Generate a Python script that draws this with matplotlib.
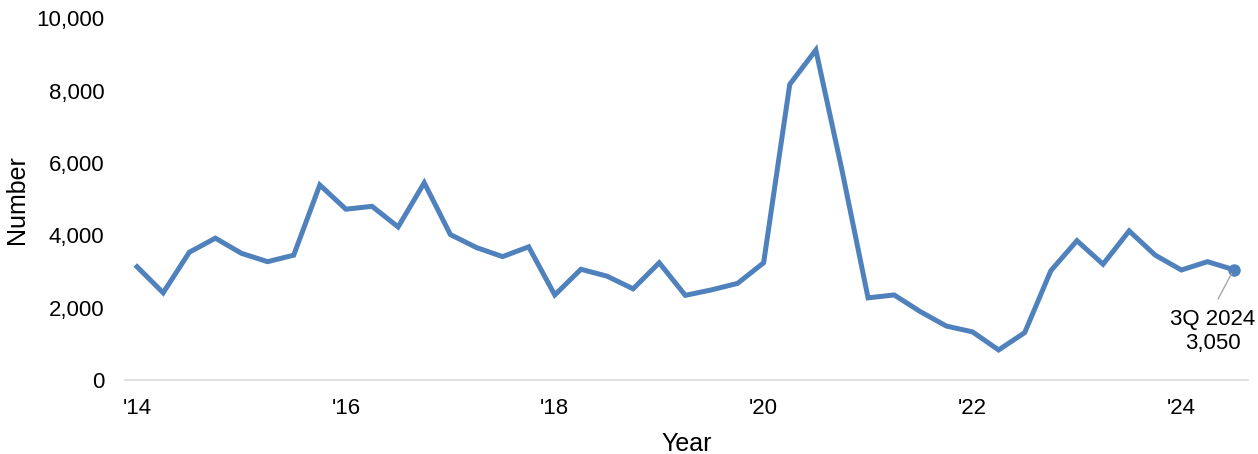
import numpy as np
import matplotlib.pyplot as plt
from matplotlib.ticker import FuncFormatter

plt.rcParams['font.family'] = ['Liberation Sans', 'DejaVu Sans']

# Quarterly counts, 1Q 2014 through 3Q 2024
quarters = [f"{q}Q {y}" for y in range(2014, 2025) for q in range(1, 5)][:43]
counts = [3130, 2410, 3530, 3920, 3500, 3270, 3450, 5390,
          4720, 4800, 4230, 5450, 4020, 3660, 3410, 3680,
          2350, 3060, 2870, 2520, 3240, 2340, 2490, 2670,
          3240, 8170, 9120, 5800, 2270, 2350, 1890, 1490,
          1330, 830, 1310, 3020, 3850, 3200, 4120, 3450,
          3040, 3270, 3050]
year_ticks = ["'14", "'16", "'18", "'20", "'22", "'24"]

blue = '#4F81BD'
x = np.arange(len(counts))

fig = plt.figure(figsize=(12.58, 4.54), dpi=100)
ax = fig.add_axes([0.0994, 0.163, 0.8926, 0.797])

ax.plot(x, counts, color=blue, lw=3.6, solid_joinstyle='miter')
ax.plot(x[-1], counts[-1], 'o', color=blue, ms=8)

# callout for the latest quarter
ax.annotate(f"{quarters[-1]}\n{counts[-1]:,}", xy=(x[-1], counts[-1]),
            xytext=(x[-1] - 0.8, 1330), ha='center', va='center',
            fontsize=16, linespacing=1.2,
            arrowprops=dict(arrowstyle='-', color='#A6A6A6', lw=1,
                            relpos=(0.5, 1.0), shrinkA=6, shrinkB=3))

ax.set_xlim(-0.46, 42.55)
ax.set_ylim(0, 10000)
ax.set_xticks(x[::8])
ax.set_xticklabels(year_ticks)
ax.set_yticks(np.arange(0, 10001, 2000))
ax.yaxis.set_major_formatter(FuncFormatter(lambda v, p: f"{v:,.0f}"))

for s in ['top', 'right', 'left']:
    ax.spines[s].set_visible(False)
ax.spines['bottom'].set_color('#D9D9D9')
ax.spines['bottom'].set_linewidth(1.2)
ax.tick_params(axis='x', length=0, pad=13, labelsize=16)
ax.tick_params(axis='y', length=0, pad=15, labelsize=16)

ax.set_xlabel('Year', fontsize=18, labelpad=9)
ax.set_ylabel('Number', fontsize=18, labelpad=5)

fig.savefig('out.png', dpi=100)
